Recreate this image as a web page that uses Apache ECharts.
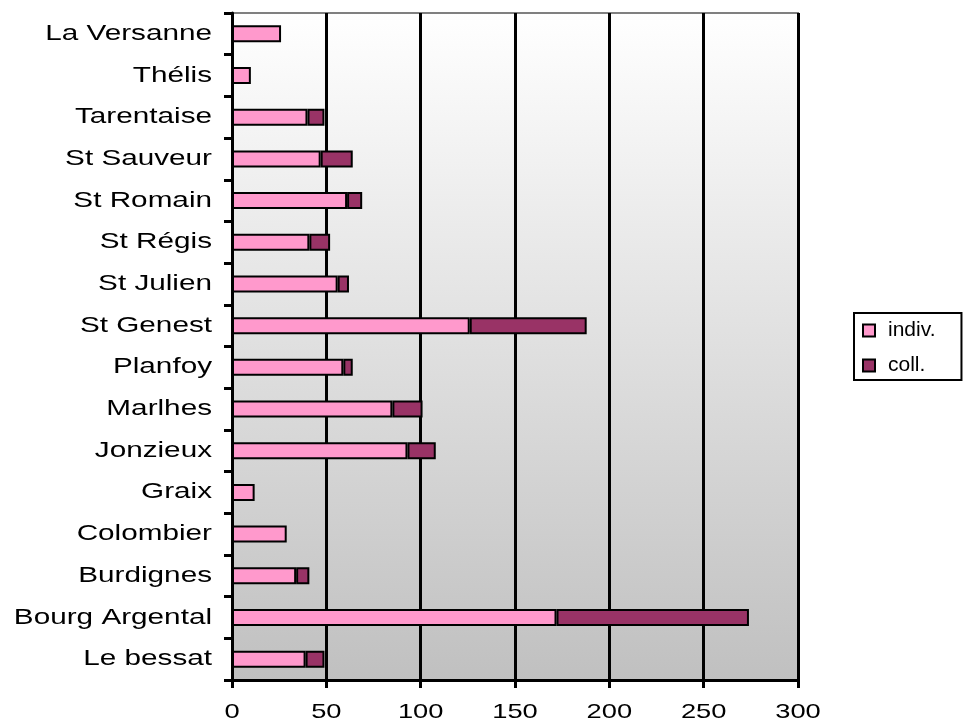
<!DOCTYPE html>
<html>
<head>
<meta charset="utf-8">
<script src="https://cdn.jsdelivr.net/npm/echarts@6/dist/echarts.min.js"></script>
<style>
  html, body { margin: 0; padding: 0; background: #fff; }
  #chart { width: 965px; height: 720px; }
</style>
</head>
<body>
<div id="chart"></div>
<script>
// communes, bottom to top
const communes = ['Le bessat', 'Bourg Argental', 'Burdignes', 'Colombier', 'Graix', 'Jonzieux',
  'Marlhes', 'Planfoy', 'St Genest', 'St Julien', 'St Régis', 'St Romain', 'St Sauveur',
  'Tarentaise', 'Thélis', 'La Versanne'];
const indiv = [39, 172, 34, 29, 12, 93, 85, 59, 126, 56, 41, 61, 47, 40, 10, 26];
const coll = [10, 102, 7, 0, 0, 15, 16, 5, 62, 6, 11, 8, 17, 9, 0, 0];
const xTicks = [0, 50, 100, 150, 200, 250, 300];

const chart = echarts.init(document.getElementById('chart'));
const font = 'Liberation Sans, Arial, sans-serif';

chart.setOption({
  animation: false,
  textStyle: { fontFamily: font },
  grid: {
    left: 232, right: 167, top: 13, bottom: 40,
    show: true,
    borderColor: '#808080',
    borderWidth: 2,
    backgroundColor: new echarts.graphic.LinearGradient(0, 0, 0, 1, [
      { offset: 0, color: '#ffffff' },
      { offset: 1, color: '#c0c0c0' }
    ])
  },
  legend: {
    orient: 'vertical',
    left: 854, top: 313,
    padding: [7, 26, 4, 8],
    borderColor: '#000',
    borderWidth: 2,
    itemWidth: 12, itemHeight: 12,
    itemGap: 14,
    icon: 'rect',
    textStyle: { fontSize: 21, color: '#000', fontFamily: font, padding: [0, 0, 0, 8] },
    data: ['indiv.', 'coll.']
  },
  xAxis: {
    type: 'value',
    min: xTicks[0], max: xTicks[xTicks.length - 1], interval: 50,
    axisLine: { show: true, lineStyle: { color: '#000', width: 3 } },
    axisTick: { show: true, length: 8, lineStyle: { color: '#000', width: 3 } },
    axisLabel: { show: false },
    splitLine: { show: true, lineStyle: { color: '#000', width: 3 } }
  },
  yAxis: {
    type: 'category',
    data: communes,
    axisLine: { show: true, lineStyle: { color: '#000', width: 3 } },
    axisTick: { show: true, length: 8, lineStyle: { color: '#000', width: 3 } },
    axisLabel: { show: false },
    splitLine: { show: false }
  },
  series: [
    {
      name: 'indiv.', type: 'bar', stack: 'tot', barWidth: 17,
      itemStyle: { color: '#ff99cc', borderColor: '#000', borderWidth: 2 },
      data: indiv
    },
    {
      name: 'coll.', type: 'bar', stack: 'tot', barWidth: 17,
      itemStyle: { color: '#993366', borderColor: '#000', borderWidth: 2 },
      data: coll.map(v => v === 0 ? null : v)
    }
  ]
});

// the original's labels are horizontally stretched, so draw them as scaled text
const rect = chart.getModel().getComponent('grid').coordinateSystem.getRect();
const labels = [];
communes.forEach(c => {
  const p = chart.convertToPixel({ xAxisIndex: 0, yAxisIndex: 0 }, [0, c]);
  labels.push({
    type: 'text', x: p[0] - 20, y: p[1], scaleX: 1.35,
    style: { text: c, font: '22px ' + font, fill: '#000', align: 'right', verticalAlign: 'middle' }
  });
});
xTicks.forEach(t => {
  const p = chart.convertToPixel({ xAxisIndex: 0, yAxisIndex: 0 }, [t, communes[0]]);
  labels.push({
    type: 'text', x: p[0], y: rect.y + rect.height + 32, scaleX: 1.3,
    style: { text: String(t), font: '21px ' + font, fill: '#000', align: 'center', verticalAlign: 'middle' }
  });
});
chart.setOption({ graphic: labels });
</script>
</body>
</html>
